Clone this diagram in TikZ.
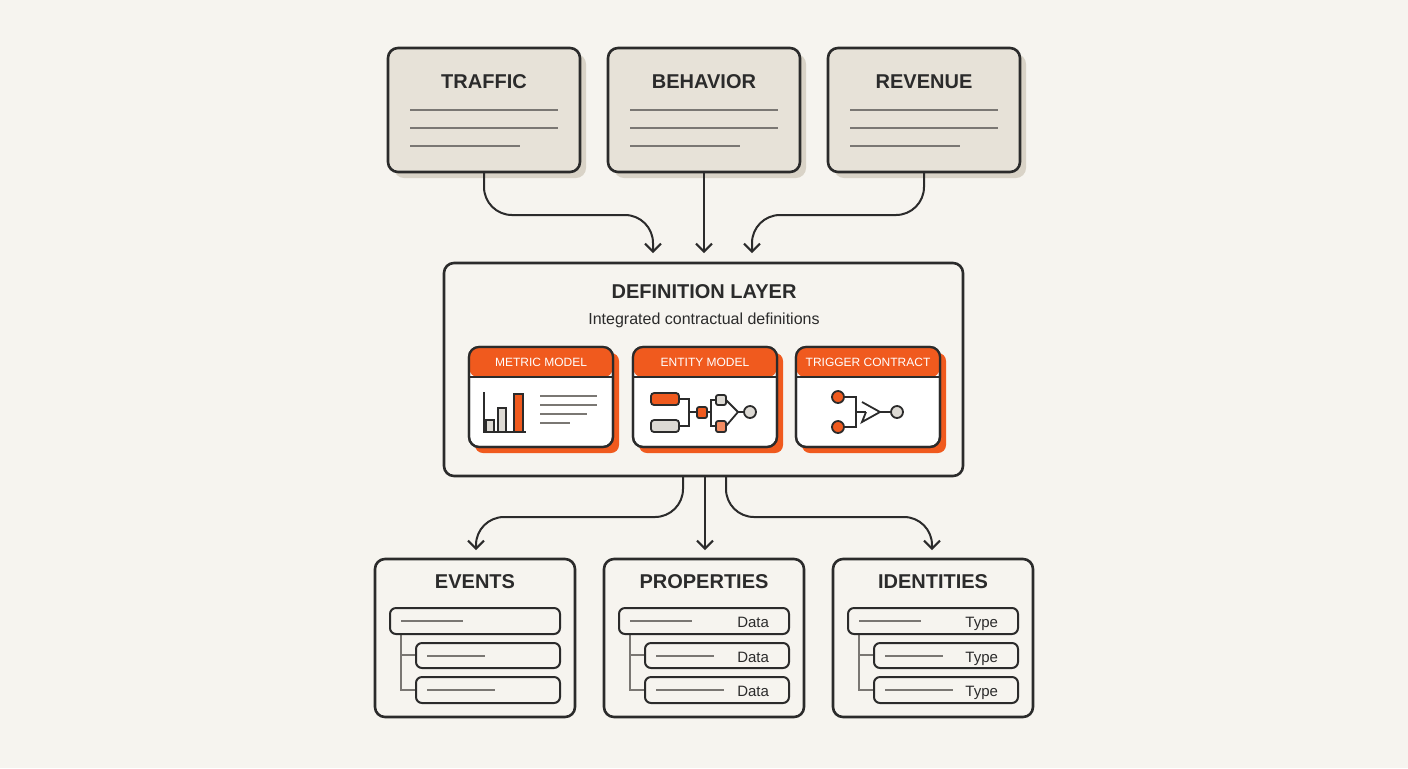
\documentclass[tikz,border=0pt]{standalone}
\usepackage{fontspec}
\setmainfont{Liberation Sans}
\usetikzlibrary{arrows.meta}
\definecolor{bgc}{HTML}{F6F4EF}
\definecolor{beige}{HTML}{E7E2D8}
\definecolor{beigesh}{HTML}{D9D3C7}
\definecolor{ink}{HTML}{2B2B2B}
\definecolor{orng}{HTML}{F05A1E}
\definecolor{lgray}{HTML}{DDDAD4}
\definecolor{mgray}{HTML}{7A7773}
\tikzset{
  card/.style={draw=ink,line width=1.3pt,rounded corners=5pt},
  ttl/.style={font=\bfseries\fontsize{10}{12}\selectfont,text=ink},
  hdr/.style={font=\fontsize{6}{8}\selectfont,text=white},
  flow/.style={draw=ink,line width=1pt,rounded corners=14pt,-{Straight Barb[length=4pt,width=8pt]}},
  bar/.style={draw=mgray,line width=1pt},
  row/.style={draw=ink,line width=1pt,rounded corners=3pt,fill=bgc},
  tag/.style={anchor=east,font=\fontsize{7.5}{9}\selectfont,text=ink,text height=1.6ex,text depth=0.4ex}
}
\begin{document}
\begin{tikzpicture}[x=0.5pt,y=-0.5pt]
  \fill[bgc] (0,0) rectangle (1408,768);
  % source cards
  \foreach \x/\name/\txt in {388/traffic/TRAFFIC,608/behavior/BEHAVIOR,828/revenue/REVENUE}{
    \fill[beigesh,rounded corners=5pt] (\x+6,54) rectangle (\x+198,178);
    \draw[card,fill=beige] (\x,48) rectangle (\x+192,172);
    \node[ttl] (\name) at (\x+96,82) {\txt};
    \draw[bar] (\x+22,110) -- (\x+170,110);
    \draw[bar] (\x+22,128) -- (\x+170,128);
    \draw[bar] (\x+22,146) -- (\x+132,146);
  }
  \coordinate (traffic-b) at (484,172);
  \coordinate (behavior-b) at (704,172);
  \coordinate (revenue-b) at (924,172);
  \coordinate (in-l) at (653,253);
  \coordinate (in-m) at (704,253);
  \coordinate (in-r) at (752,253);
  \draw[flow] (traffic-b) -- (484,215) -| (in-l);
  \draw[flow] (behavior-b) -- (in-m);
  \draw[flow] (revenue-b) -- (924,215) -| (in-r);
  % definition layer
  \draw[card,fill=bgc] (444,263) rectangle (963,476);
  \node[ttl] (deflayer) at (704,292) {DEFINITION LAYER};
  \node[font=\fontsize{8}{10}\selectfont,text=ink] (defsub) at (704,320) {Integrated contractual definitions};
  \foreach \x/\name/\txt in {469/metric/METRIC MODEL,633/entity/ENTITY MODEL,796/trigger/TRIGGER CONTRACT}{
    \fill[orng,rounded corners=4pt] (\x+6,353) rectangle (\x+150,453);
    \draw[card,fill=white,line width=1.1pt] (\x,347) rectangle (\x+144,447);
    \fill[orng,rounded corners=4pt] (\x+0.6,347.6) rectangle (\x+143.4,377);
    \draw[ink,line width=1.1pt] (\x,377) -- (\x+144,377);
    \draw[card,line width=1.1pt] (\x,347) rectangle (\x+144,447);
    \node[hdr] (\name) at (\x+72,362) {\txt};
  }
  % metric icon
  \draw[ink,line width=1pt] (484,392) -- (484,432) -- (526,432);
  \draw[ink,line width=0.8pt,fill=lgray] (486,420) rectangle (494,432);
  \draw[ink,line width=0.8pt,fill=lgray] (498,408) rectangle (506,432);
  \draw[ink,line width=0.8pt,fill=orng] (514,394) rectangle (523,432);
  \foreach \y/\l in {396/597,405/597,414/587,423/570}
    \draw[bar] (540,\y) -- (\l,\y);
  % entity icon
  \draw[ink,line width=0.9pt] (679,399) -| (689,412) -- (697,412);
  \draw[ink,line width=0.9pt] (679,426) -| (689,412);
  \draw[ink,line width=0.9pt] (707,412) -- (711,412) |- (716,400);
  \draw[ink,line width=0.9pt] (711,412) |- (716,426);
  \draw[ink,line width=0.9pt] (726,400) -- (738,412) -- (726,426);
  \draw[ink,line width=0.9pt] (738,412) -- (744,412);
  \draw[ink,line width=0.9pt,fill=orng,rounded corners=1.5pt] (651,393) rectangle (679,405);
  \draw[ink,line width=0.9pt,fill=lgray,rounded corners=1.5pt] (651,420) rectangle (679,432);
  \draw[ink,line width=0.9pt,fill=orng,rounded corners=1pt] (697,407) rectangle (707,418);
  \draw[ink,line width=0.9pt,fill=lgray,rounded corners=1pt] (716,395) rectangle (726,405);
  \draw[ink,line width=0.9pt,fill=orng!70,rounded corners=1pt] (716,421) rectangle (726,432);
  \draw[ink,line width=0.9pt,fill=lgray] (750,412) circle (6);
  % trigger icon
  \draw[ink,line width=0.9pt] (844,397) -| (856,427) -- (844,427);
  \draw[ink,line width=0.9pt] (856,412) -- (866,412);
  \draw[ink,line width=0.9pt] (862,402) -- (880,412) -- (862,422) -- (866,412);
  \draw[ink,line width=0.9pt] (880,412) -- (891,412);
  \draw[ink,line width=0.9pt,fill=orng] (838,397) circle (6);
  \draw[ink,line width=0.9pt,fill=orng] (838,427) circle (6);
  \draw[ink,line width=0.9pt,fill=lgray] (897,412) circle (6);
  % outputs
  \coordinate (out-l) at (683,476);
  \coordinate (out-m) at (705,476);
  \coordinate (out-r) at (726,476);
  \coordinate (events-t) at (476,550);
  \coordinate (props-t) at (705,550);
  \coordinate (ids-t) at (932,550);
  \draw[flow] (out-l) -- (683,517) -| (events-t);
  \draw[flow] (out-m) -- (props-t);
  \draw[flow] (out-r) -- (726,517) -| (ids-t);
  \foreach \x/\name/\txt/\tag in {375/events/EVENTS/,604/props/PROPERTIES/Data,833/ids/IDENTITIES/Type}{
    \draw[card,fill=bgc] (\x,559) rectangle (\x+200,717);
    \node[ttl] (\name) at (\x+100,582) {\txt};
    \draw[mgray,line width=1pt] (\x+26,634) |- (\x+41,655);
    \draw[mgray,line width=1pt] (\x+26,650) |- (\x+41,690);
    \draw[row] (\x+15,608) rectangle (\x+185,634);
    \draw[row] (\x+41,643) rectangle (\x+185,668);
    \draw[row] (\x+41,677) rectangle (\x+185,703);
    \draw[bar] (\x+26,621) -- (\x+88,621);
    \draw[bar] (\x+52,656) -- (\x+110,656);
    \draw[bar] (\x+52,690) -- (\x+120,690);
    \foreach \y in {621,656,690}
      \node[tag] at (\x+172,\y) {\tag};
  }
\end{tikzpicture}
\end{document}
